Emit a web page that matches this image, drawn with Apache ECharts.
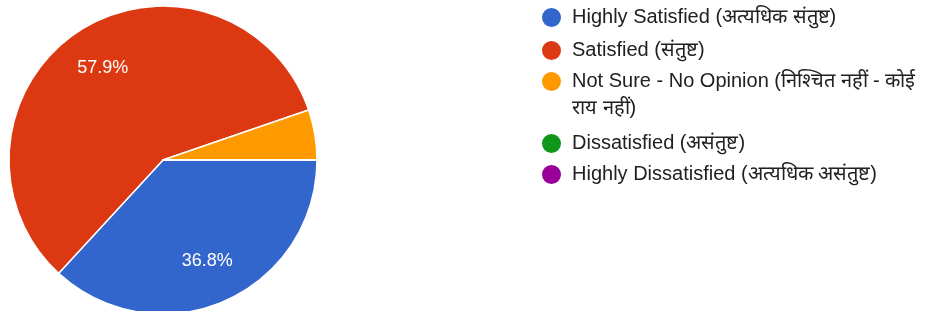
<!DOCTYPE html>
<html>
<head>
<meta charset="utf-8">
<script src="https://cdn.jsdelivr.net/npm/echarts@6/dist/echarts.min.js"></script>
<style>
  html, body { margin: 0; padding: 0; background: #fff; }
  #main { width: 929px; height: 311px; }
</style>
</head>
<body>
<div id="main"></div>
<script>
// responses per option (19 in total)
var names = [
  'Highly Satisfied (अत्यधिक संतुष्ट)',
  'Satisfied (संतुष्ट)',
  'Not Sure - No Opinion (निश्चित नहीं - कोई\nराय नहीं)',
  'Dissatisfied (असंतुष्ट)',
  'Highly Dissatisfied (अत्यधिक असंतुष्ट)'
];
var counts = [7, 11, 1, 0, 0];
var colors = ['#3366cc', '#dc3912', '#ff9900', '#109618', '#990099'];

var font = 'Arial, "Liberation Sans", sans-serif';
var pieData = names.map(function (n, i) {
  return { name: n, value: counts[i] };
});

// one legend per row so the wrapped entry keeps its dot on the first line
var legendTops = [4, 37, 41, 130, 161];
var legends = names.map(function (n, i) {
  var wrapped = n.indexOf('\n') >= 0;
  return {
    orient: 'vertical',
    left: 540,
    top: legendTops[i],
    padding: 0,
    icon: 'circle',
    itemWidth: 31,
    itemHeight: 21,
    selectedMode: false,
    data: [n],
    // empty first line balances the second one, so the dot sits on line one
    formatter: wrapped ? function (s) { return '\n' + s; } : '{name}',
    textStyle: {
      fontFamily: font,
      fontSize: 20,
      lineHeight: 27,
      color: '#212121'
    }
  };
});

var chart = echarts.init(document.getElementById('main'));
chart.setOption({
  animation: false,
  color: colors,
  legend: legends,
  series: [
    {
      type: 'pie',
      center: [163, 160],
      radius: [0, 154],
      startAngle: 0,
      clockwise: true,
      data: pieData,
      label: { show: false },
      labelLine: { show: false },
      itemStyle: { borderColor: '#fff', borderWidth: 1.5 },
      emphasis: { disabled: true }
    },
    {
      // transparent ring only to put the percentages further out
      type: 'pie',
      silent: true,
      center: [163, 160],
      radius: [60, 154],
      startAngle: 0,
      clockwise: true,
      data: pieData,
      itemStyle: { color: 'transparent', borderWidth: 0 },
      labelLine: { show: false },
      label: {
        show: true,
        position: 'inside',
        color: '#fff',
        fontFamily: font,
        fontSize: 18,
        formatter: function (p) {
          return p.percent < 10 ? '' : p.percent.toFixed(1) + '%';
        }
      },
      emphasis: { disabled: true }
    }
  ]
});
</script>
</body>
</html>
